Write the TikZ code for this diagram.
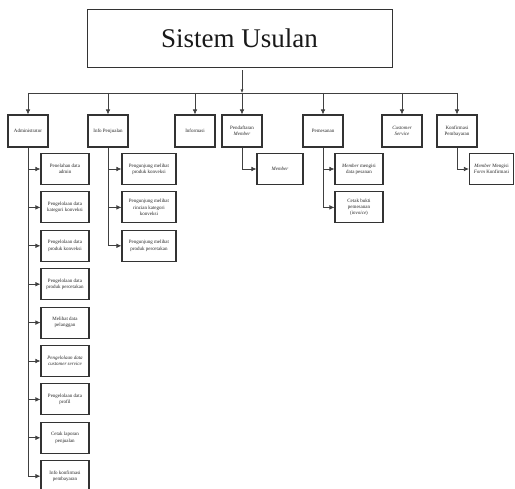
\documentclass[tikz,border=0pt]{standalone}
\usepackage{fontspec}
\setmainfont{Liberation Serif}
\usetikzlibrary{arrows.meta}
\begin{document}
\begin{tikzpicture}[x=1pt,y=-1pt,
  box/.style={draw=black!80,line width=1.1pt,align=center,
    font=\fontsize{5}{6.2}\selectfont,inner sep=1pt,text=black!85},
  menu/.style={box,minimum width=40pt,minimum height=32pt},
  sub/.style={box,minimum height=31pt,minimum width=#1},
  link/.style={draw=black!75,line width=0.75pt,-{Latex[length=5pt,width=4.6pt]}},
  wire/.style={draw=black!75,line width=0.75pt}]
\useasboundingbox (0,0) rectangle (515,489);
\clip (0,0) rectangle (515,489);

% root
\node[draw=black!80,line width=0.9pt,minimum width=305pt,minimum height=58pt,
  font=\fontsize{27}{32}\selectfont,text=black!90] (sys) at (239.5,38) {Sistem Usulan};
\coordinate (hub) at (242,93);
\draw[draw=black!75,line width=0.6pt,-{Latex[length=3.5pt,width=3pt]},shorten <=3pt]
  (sys.south -| hub) -- (hub);

% first level menus
\node[menu] (adm) at (28,131)  {Administrator};
\node[menu] (inf) at (108,131) {Info Penjualan};
\node[menu] (ifo) at (195,131) {Informasi};
\node[menu] (reg) at (242,131) {Pendaftaran\\\textit{Member}};
\node[menu] (pes) at (323,131) {Pemesanan};
\node[menu] (cs)  at (402,131) {\textit{Customer}\\\textit{Service}};
\node[menu] (kon) at (457,131) {Konfirmasi\\Pembayaran};

% bus
\coordinate (b1) at (28,93);
\coordinate (b7) at (457,93);
\draw[wire] (b1) -- (b7);
\foreach \n in {adm,inf,ifo,reg,pes,cs,kon}
  \draw[link] (\n.north |- hub) -- (\n.north);

% Administrator submenus
\foreach \i/\t in {0/{Penelahan data\\admin},
                   1/{Pengelolaan data\\kategori konveksi},
                   2/{Pengelolaan data\\produk konveksi},
                   3/{Pengelolaan data\\produk percetakan},
                   4/{Melihat data\\pelanggan},
                   5/{\textit{Pengelolaan data}\\\textit{customer service}},
                   6/{Pengelolaan data\\profil},
                   7/{Cetak laporan\\penjualan},
                   8/{Info konfirmasi\\pembayaran}}{
  \node[sub=48pt] (a\i) at (65,169+38.4*\i) {\t};
  \draw[link] (adm.south) |- (a\i.west);
}

% Info Penjualan submenus
\foreach \i/\t in {0/{Pengunjung melihat\\produk konveksi},
                   1/{Pengunjung melihat\\rincian kategori\\konveksi},
                   2/{Pengunjung melihat\\produk percetakan}}{
  \node[sub=54pt] (p\i) at (149,169+38.4*\i) {\t};
  \draw[link] (inf.south) |- (p\i.west);
}

% Pendaftaran Member
\node[sub=46pt] (m0) at (280,169) {\textit{Member}};
\draw[link] (reg.south) |- (m0.west);

% Pemesanan
\node[sub=48pt] (o0) at (359,169) {\textit{Member} mengisi\\data pesanan};
\node[sub=48pt] (o1) at (359,207.4) {Cetak bukti\\pemesanan\\(\textit{invoice})};
\draw[link] (pes.south) |- (o0.west);
\draw[link] (pes.south) |- (o1.west);

% Konfirmasi Pembayaran
\node[sub=44pt] (k0) at (491.5,169) {\textit{Member} Mengisi\\\textit{Form} Konfirmasi};
\draw[link] (kon.south) |- (k0.west);
\end{tikzpicture}
\end{document}
